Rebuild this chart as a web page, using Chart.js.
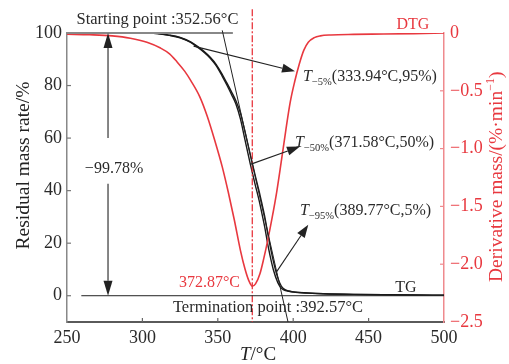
<!DOCTYPE html>
<html>
<head>
<meta charset="utf-8">
<script src="https://cdn.jsdelivr.net/npm/chart.js@4/dist/chart.umd.min.js"></script>
<style>
  html, body { margin: 0; padding: 0; background: #fff; }
  canvas { display: block; }
</style>
</head>
<body>
<canvas id="chart" width="509" height="364"></canvas>
<script>
// temperatures (°C) for the two TG runs and their residual mass (%)
const tgTemps = [250, 280, 305, 318, 325, 332, 337, 341, 345, 349, 353, 356, 359, 362, 365, 368, 371.6, 374.7, 377.5, 379, 381, 383.5, 386.8, 389.8, 392, 394, 397, 400, 410, 420, 440, 460, 480, 500];
const tgRunA = [100, 100, 100, 99.1, 98.2, 96.4, 94.4, 92.6, 90.4, 87.5, 83.5, 80.2, 76.7, 73.0, 67.3, 59.4, 50, 42.5, 36, 32, 26.5, 18.5, 10, 5, 3, 2.1, 1.7, 1.4, 1.0, 0.76, 0.5, 0.35, 0.26, 0.22];
const tgRunB = [100, 100, 100, 99.15, 98.3, 96.6, 94.7, 92.9, 90.8, 88.0, 84.2, 81.0, 77.7, 74.2, 69.5, 62.5, 53.5, 46.0, 39.5, 35.7, 30.5, 22.5, 13.3, 6.8, 3.8, 2.5, 1.85, 1.45, 1.05, 0.78, 0.5, 0.35, 0.26, 0.22];

// DTG curve (%/min)
const dtgTemps = [250, 265, 280, 292, 303, 312, 318, 323, 328, 332, 338, 343, 348, 353, 357, 361, 365, 368, 370.5, 372.87, 375, 378, 380.5, 383, 386, 389, 392, 395, 398, 401, 404, 407, 410, 414, 418, 425, 440, 460, 480, 500];
const dtgValues = [-0.01, -0.015, -0.025, -0.045, -0.08, -0.13, -0.18, -0.25, -0.33, -0.41, -0.55, -0.72, -0.93, -1.16, -1.38, -1.62, -1.88, -2.04, -2.14, -2.19, -2.17, -2.08, -1.95, -1.80, -1.60, -1.38, -1.12, -0.85, -0.60, -0.42, -0.27, -0.15, -0.08, -0.04, -0.025, -0.017, -0.012, -0.009, -0.005, 0];

// axis ticks
const tempTicks = [250, 300, 350, 400, 450, 500];
const massTicks = [0, 20, 40, 60, 80, 100];
const dtgTicks = [-2.5, -2.0, -1.5, -1.0, -0.5, 0];

// characteristic points
const onsetTemp = 352.56;
const endTemp = 392.57;
const peakTemp = 372.87;
const massLoss = -99.78;
const markers = [
  {sub: '\u22125%', temp: 333.94, mass: 95},
  {sub: '\u221250%', temp: 371.58, mass: 50},
  {sub: '\u221295%', temp: 389.77, mass: 5}
];

const SERIF = "'Liberation Serif', 'Times New Roman', serif";
const RED = '#e8383f';
const INK = '#222';

Chart.defaults.font.family = SERIF;

const toPoints = (xs, ys) => xs.map((t, i) => ({x: t, y: ys[i]}));
const fixTicks = list => scale => { scale.ticks = list.map(v => ({value: v})); };
const minus = v => v === 0 ? '0' : '\u2212' + Math.abs(v).toFixed(1);

function arrow(ctx, x0, y0, x1, y1, len, half) {
    let ang = Math.atan2(y1 - y0, x1 - x0),
        bx = x1 - len * Math.cos(ang),
        by = y1 - len * Math.sin(ang);
    ctx.beginPath();
    ctx.moveTo(x0, y0);
    ctx.lineTo(bx, by);
    ctx.stroke();
    ctx.beginPath();
    ctx.moveTo(x1, y1);
    ctx.lineTo(bx + half * Math.sin(ang), by - half * Math.cos(ang));
    ctx.lineTo(bx - half * Math.sin(ang), by + half * Math.cos(ang));
    ctx.closePath();
    ctx.fill();
}

function line(ctx, x0, y0, x1, y1) {
    ctx.beginPath();
    ctx.moveTo(x0, y0);
    ctx.lineTo(x1, y1);
    ctx.stroke();
}

// T with a subscript, then the bracketed values
function markerLabel(ctx, x, y, sub, rest) {
    ctx.textAlign = 'left';
    ctx.textBaseline = 'alphabetic';
    ctx.font = 'italic 16px ' + SERIF;
    ctx.fillText('T', x, y);
    x += ctx.measureText('T').width;
    ctx.font = '10.5px ' + SERIF;
    ctx.fillText(sub, x, y + 4);
    x += ctx.measureText(sub).width;
    ctx.font = '16px ' + SERIF;
    ctx.fillText(rest, x, y);
}

const overlay = {
    id: 'overlay',
    afterDraw(chart) {
        const {ctx, chartArea: area, scales} = chart;
        const x = scales.x, y = scales.y, y2 = scales.y2;
        const px = t => x.getPixelForValue(t), py = v => y.getPixelForValue(v);
        ctx.save();

        // inward tick marks
        ctx.lineWidth = 1.2;
        ctx.strokeStyle = '#666';
        tempTicks.slice(1, -1).forEach(t => line(ctx, px(t), area.bottom, px(t), area.bottom - 4));
        ctx.strokeStyle = '#777';
        massTicks.forEach(v => line(ctx, area.left, py(v), area.left + 4, py(v)));
        ctx.strokeStyle = '#ef8a8e';
        dtgTicks.slice(1, -1).forEach(v => line(ctx, area.right, y2.getPixelForValue(v), area.right - 4, y2.getPixelForValue(v)));

        // peak temperature marker
        ctx.strokeStyle = RED;
        ctx.lineWidth = 1.3;
        ctx.setLineDash([7, 2, 2, 2]);
        line(ctx, px(peakTemp), py(109), px(peakTemp), area.bottom);
        ctx.setLineDash([]);

        // extrapolation lines for onset and end
        ctx.strokeStyle = '#888';
        ctx.lineWidth = 2;
        line(ctx, px(250), py(100), px(360), py(100));
        ctx.strokeStyle = INK;
        ctx.lineWidth = 1;
        line(ctx, px(259.5), py(0), px(500), py(0));
        let slope = -100 / (endTemp - onsetTemp);
        line(ctx, px(onsetTemp - 1 / slope), py(101), px(endTemp + 10 / slope * -1), py(-10));

        // total mass loss double arrow
        ctx.fillStyle = INK;
        ctx.strokeStyle = INK;
        ctx.lineWidth = 1.1;
        arrow(ctx, px(277.2), py(60), px(277.2), py(100), 15, 4.5);
        arrow(ctx, px(277.2), py(42.6), px(277.2), py(0), 15, 4.5);

        // marker arrows
        arrow(ctx, px(markers[0].temp), py(markers[0].mass), px(401.2), py(85.4), 13, 4.5);
        arrow(ctx, px(markers[1].temp), py(markers[1].mass), px(404.5), py(56.8), 13, 4.5);
        arrow(ctx, px(388.6), py(8.8), px(410), py(27), 13, 4.5);

        // texts
        ctx.fillStyle = '#2a2a2a';
        markerLabel(ctx, px(406.5), py(83.7) + 5.5, markers[0].sub, '(333.94\u00b0C,95%)');
        markerLabel(ctx, px(401.2), py(58.6) + 5.5, markers[1].sub, '(371.58\u00b0C,50%)');
        markerLabel(ctx, px(404.5), py(32.7) + 5.5, markers[2].sub, '(389.77\u00b0C,5%)');

        ctx.textBaseline = 'middle';
        ctx.textAlign = 'center';
        ctx.font = '16.5px ' + SERIF;
        ctx.fillText('Starting point :' + onsetTemp + '\u00b0C', px(310), py(105));
        ctx.fillText('Termination point :' + endTemp + '\u00b0C', px(383.3), py(-4.6));
        ctx.font = '16px ' + SERIF;
        ctx.fillText('\u2212' + Math.abs(massLoss) + '%', px(281.2), py(48.3));
        ctx.fillText('TG', px(474.8), py(3));
        ctx.fillStyle = RED;
        ctx.fillText('DTG', px(479.4), py(103.2));
        ctx.textAlign = 'right';
        ctx.fillText(peakTemp + '\u00b0C', px(364.7), py(4.8));

        // axis titles
        ctx.font = '19.5px ' + SERIF;
        ctx.fillStyle = '#222';
        ctx.save();
        ctx.translate(24, (area.top + area.bottom) / 2 - 12);
        ctx.rotate(-Math.PI / 2);
        ctx.textAlign = 'center';
        ctx.fillText('Residual mass rate/%', 0, 0);
        ctx.restore();

        ctx.save();
        ctx.translate(497, 282);
        ctx.rotate(-Math.PI / 2);
        ctx.textAlign = 'left';
        ctx.fillStyle = RED;
        let head = 'Derivative mass/(%\u00b7min';
        ctx.fillText(head, 0, 0);
        let w = ctx.measureText(head).width;
        ctx.font = '12px ' + SERIF;
        ctx.fillText('\u22121', w, -6);
        w += ctx.measureText('\u22121').width;
        ctx.font = '19.5px ' + SERIF;
        ctx.fillText(')', w, 0);
        ctx.restore();

        ctx.textAlign = 'left';
        ctx.fillStyle = '#222';
        ctx.font = 'italic 19px ' + SERIF;
        ctx.fillText('T', 240, 355);
        let tw = ctx.measureText('T').width;
        ctx.font = '19px ' + SERIF;
        ctx.fillText('/\u00b0C', 240 + tw, 355);

        ctx.restore();
    }
};

new Chart(document.getElementById('chart'), {
    type: 'line',
    data: {
        datasets: [
            {
                label: 'DTG',
                data: toPoints(dtgTemps, dtgValues),
                yAxisID: 'y2',
                borderColor: RED,
                borderWidth: 1.6,
                pointRadius: 0,
                cubicInterpolationMode: 'monotone'
            },
            {
                label: 'TG',
                data: toPoints(tgTemps, tgRunA),
                yAxisID: 'y',
                borderColor: '#1a1a1a',
                borderWidth: 1.4,
                pointRadius: 0,
                cubicInterpolationMode: 'monotone'
            },
            {
                label: 'TG repeat',
                data: toPoints(tgTemps, tgRunB),
                yAxisID: 'y',
                borderColor: '#1a1a1a',
                borderWidth: 1.4,
                pointRadius: 0,
                cubicInterpolationMode: 'monotone'
            }
        ]
    },
    options: {
        responsive: false,
        animation: false,
        devicePixelRatio: 1,
        layout: {padding: {top: 33}},
        plugins: {legend: {display: false}, tooltip: {enabled: false}},
        scales: {
            x: {
                type: 'linear',
                min: 250,
                max: 500,
                afterBuildTicks: fixTicks(tempTicks),
                afterFit: s => { s.height = 42; },
                grid: {display: false, drawTicks: false},
                border: {color: '#5a5a5a', width: 2},
                ticks: {padding: 5, color: '#2a2a2a', font: {size: 18}}
            },
            y: {
                position: 'left',
                min: -10,
                max: 100,
                afterBuildTicks: fixTicks(massTicks),
                afterFit: s => { s.width = 67; },
                grid: {display: false, drawTicks: false},
                border: {color: '#888', width: 1.5},
                ticks: {padding: 5, color: '#2a2a2a', font: {size: 18}}
            },
            y2: {
                position: 'right',
                min: -2.5,
                max: 0,
                afterBuildTicks: fixTicks(dtgTicks),
                afterFit: s => { s.width = 65; },
                grid: {display: false, drawTicks: false},
                border: {color: '#ef8a8e', width: 1.5},
                ticks: {padding: 6, color: RED, font: {size: 18}, callback: minus}
            }
        }
    },
    plugins: [overlay]
});
</script>
</body>
</html>
